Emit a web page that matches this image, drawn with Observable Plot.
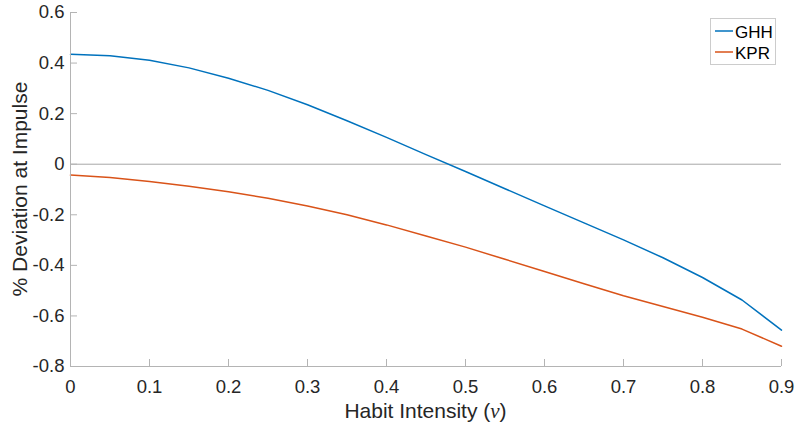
<!DOCTYPE html>
<html><head><meta charset="utf-8">
<script src="https://cdn.jsdelivr.net/npm/d3@7"></script>
<script src="https://cdn.jsdelivr.net/npm/@observablehq/plot@0.6"></script>
<style>body{margin:0;background:#fff}</style>
</head><body><div id="chart"></div>
<script>
// Data
const nu = [0, 0.05, 0.1, 0.15, 0.2, 0.25, 0.3, 0.35, 0.4, 0.45, 0.5, 0.55, 0.6, 0.65, 0.7, 0.75, 0.8, 0.85, 0.9];
const ghh = [0.435, 0.429, 0.411, 0.381, 0.340, 0.292, 0.235, 0.172, 0.106, 0.038, -0.029, -0.097, -0.165, -0.232, -0.299, -0.370, -0.448, -0.537, -0.656];
const kpr = [-0.043, -0.053, -0.068, -0.087, -0.109, -0.135, -0.165, -0.200, -0.240, -0.284, -0.328, -0.376, -0.424, -0.473, -0.520, -0.563, -0.605, -0.652, -0.720];
const seriesNames = ["GHH", "KPR"];
const seriesColors = ["#0072BD", "#D95319"];
const xTicks = [0, 0.1, 0.2, 0.3, 0.4, 0.5, 0.6, 0.7, 0.8, 0.9];
const xTickLabels = ["0", "0.1", "0.2", "0.3", "0.4", "0.5", "0.6", "0.7", "0.8", "0.9"];
const yTicks = [-0.8, -0.6, -0.4, -0.2, 0, 0.2, 0.4, 0.6];
const yTickLabels = ["-0.8", "-0.6", "-0.4", "-0.2", "0", "0.2", "0.4", "0.6"];
const xLabel = "Habit Intensity (";
const xLabelSym = "ν";
const yLabel = "% Deviation at Impulse";

const seriesValues = [ghh, kpr];
const rows = seriesNames.flatMap((s, k) => nu.map((x, i) => ({x, y: seriesValues[k][i], s})));

const W = 796, H = 426, mL = 70, mR = 15, mT = 12, mB = 60;
const axisColor = "#b4b4b4";
const textColor = "#262626";
const font = "'Liberation Sans', Arial, Helvetica, sans-serif";

const svg = Plot.plot({
  width: W, height: H,
  marginLeft: mL, marginRight: mR, marginTop: mT, marginBottom: mB,
  x: {domain: [0, 0.9]},
  y: {domain: [-0.8, 0.6]},
  color: {domain: seriesNames, range: seriesColors},
  style: {fontFamily: font, fontSize: "18px", color: textColor, background: "#fff"},
  marks: [
    Plot.ruleY([0], {stroke: "#a8a8a8", strokeWidth: 1}),
    Plot.line(rows, {x: "x", y: "y", z: "s", stroke: "s", strokeWidth: 1.5}),
    Plot.ruleX([0], {stroke: axisColor}),
    Plot.ruleY([-0.8], {stroke: axisColor}),
    Plot.tickX(xTicks, {x: d => d, stroke: axisColor, insetTop: H - mT - mB - 7}),
    Plot.tickY(yTicks, {y: d => d, stroke: axisColor, insetRight: W - mL - mR - 7}),
    Plot.axisX(xTicks, {tickSize: 0, tickPadding: 13, label: null, fill: textColor, fontSize: 18,
      tickFormat: d => xTickLabels[xTicks.indexOf(d)]}),
    Plot.axisY(yTicks, {tickSize: 0, tickPadding: 6, label: null, fill: textColor, fontSize: 18,
      tickFormat: d => yTickLabels[yTicks.indexOf(d)]})
  ]
});

const s = d3.select(svg);
s.selectAll("g[aria-label$='tick label']").style("font-size", "18.5px").style("font-family", font);
s.selectAll("g[aria-label$='tick label'] text").style("font-size", "18.5px");
// x label
const xl = s.append("text")
  .attr("x", (mL + W - mR) / 2).attr("y", 418)
  .attr("text-anchor", "middle")
  .style("font-size", "21px").style("font-family", font).attr("fill", textColor);
xl.append("tspan").text(xLabel);
xl.append("tspan").style("font-family", "'Liberation Serif', 'DejaVu Serif', serif").style("font-style", "italic").text(xLabelSym);
xl.append("tspan").text(")");
// y label
s.append("text")
  .attr("transform", `translate(27,${(mT + H - mB) / 2}) rotate(-90)`)
  .attr("text-anchor", "middle")
  .style("font-size", "21px").style("font-family", font).attr("fill", textColor)
  .text(yLabel);
// legend
const lg = s.append("g");
lg.append("rect").attr("x", 710.5).attr("y", 18.5).attr("width", 65).attr("height", 46)
  .attr("fill", "#fff").attr("stroke", "#cccccc");
seriesNames.forEach((name, i) => {
  const cy = 31 + i * 21;
  lg.append("line").attr("x1", 715).attr("x2", 733).attr("y1", cy).attr("y2", cy)
    .attr("stroke", seriesColors[i]).attr("stroke-width", 1.5);
  lg.append("text").attr("x", 735).attr("y", cy + 6.5).attr("text-anchor", "start")
    .style("font-size", "17px").style("font-family", font).attr("fill", "#000").text(name);
});

document.getElementById("chart").appendChild(svg);
</script>
</body></html>
